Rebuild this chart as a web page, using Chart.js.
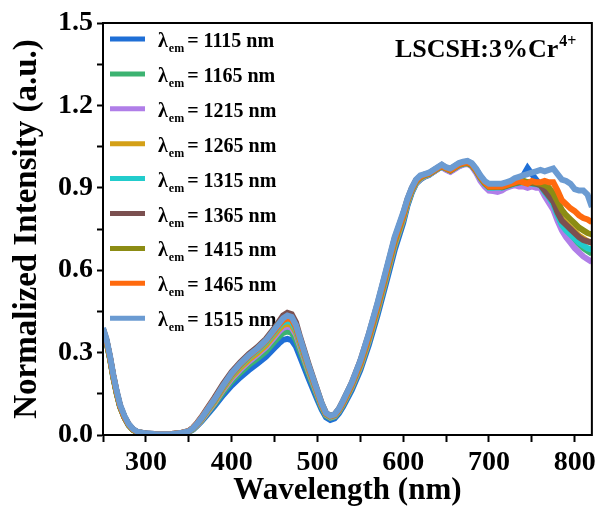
<!DOCTYPE html>
<html>
<head>
<meta charset="utf-8">
<script src="https://cdn.jsdelivr.net/npm/chart.js@4.4.0/dist/chart.umd.min.js"></script>
<style>
  body { margin: 0; background: #fff; }
  #wrap { width: 600px; height: 512px; }
</style>
</head>
<body>
<div id="wrap"><canvas id="chart" width="600" height="512"></canvas></div>
<script>
// wavelength grid (nm)
const wavelengths = [
  250, 254, 258, 262, 266, 270, 275, 280, 285, 290,
  300, 310, 320, 330, 340, 350, 355, 360, 365, 370,
  380, 390, 400, 410, 420, 430, 440, 450, 455, 460,
  465, 470, 475, 480, 490, 500, 505, 510, 515, 520,
  525, 530, 540, 550, 560, 570, 580, 590, 600, 605,
  610, 615, 620, 625, 630, 635, 640, 645, 650, 655,
  660, 665, 670, 675, 680, 685, 690, 695, 700, 705,
  710, 715, 720, 725, 730, 735, 740, 745, 750, 755,
  760, 765, 770, 775, 780, 785, 790, 795, 800, 805,
  810, 815, 820
];

const em1115 = [
  0.383, 0.343, 0.283, 0.213, 0.153, 0.103, 0.064, 0.036, 0.019, 0.01,
  0.005, 0.003, 0.002, 0.003, 0.005, 0.011, 0.02, 0.034, 0.05, 0.068,
  0.105, 0.145, 0.18, 0.21, 0.236, 0.26, 0.285, 0.317, 0.333, 0.346,
  0.35, 0.345, 0.322, 0.283, 0.203, 0.128, 0.092, 0.064, 0.055, 0.06,
  0.078, 0.104, 0.163, 0.236, 0.328, 0.435, 0.553, 0.673, 0.772, 0.835,
  0.882, 0.915, 0.93, 0.94, 0.946, 0.957, 0.968, 0.976, 0.968, 0.96,
  0.97, 0.98, 0.986, 0.99, 0.98, 0.96, 0.935, 0.915, 0.9, 0.9,
  0.902, 0.9, 0.905, 0.91, 0.918, 0.925, 0.945, 0.972, 0.95, 0.93,
  0.91, 0.885, 0.86, 0.835, 0.8, 0.77, 0.75, 0.735, 0.715, 0.7,
  0.685, 0.675, 0.665
];
const em1165 = [
  0.383, 0.343, 0.283, 0.213, 0.153, 0.103, 0.064, 0.036, 0.019, 0.01,
  0.005, 0.003, 0.002, 0.003, 0.005, 0.012, 0.021, 0.036, 0.053, 0.073,
  0.112, 0.156, 0.195, 0.227, 0.255, 0.279, 0.305, 0.34, 0.357, 0.372,
  0.377, 0.372, 0.347, 0.305, 0.22, 0.14, 0.1, 0.071, 0.062, 0.067,
  0.085, 0.111, 0.172, 0.246, 0.34, 0.448, 0.567, 0.687, 0.783, 0.842,
  0.886, 0.917, 0.932, 0.942, 0.948, 0.958, 0.968, 0.977, 0.968, 0.96,
  0.97, 0.98, 0.986, 0.989, 0.98, 0.96, 0.932, 0.912, 0.898, 0.898,
  0.9, 0.898, 0.905, 0.91, 0.915, 0.918, 0.92, 0.915, 0.915, 0.912,
  0.905, 0.88, 0.855, 0.83, 0.795, 0.765, 0.745, 0.73, 0.71, 0.695,
  0.68, 0.67, 0.66
];
const em1215 = [
  0.385, 0.345, 0.285, 0.215, 0.155, 0.104, 0.065, 0.037, 0.02, 0.01,
  0.005, 0.003, 0.002, 0.003, 0.006, 0.012, 0.022, 0.037, 0.055, 0.076,
  0.117, 0.164, 0.205, 0.238, 0.267, 0.292, 0.32, 0.357, 0.376, 0.39,
  0.395, 0.39, 0.365, 0.32, 0.23, 0.147, 0.105, 0.074, 0.064, 0.069,
  0.087, 0.114, 0.176, 0.25, 0.345, 0.453, 0.572, 0.692, 0.787, 0.845,
  0.888, 0.918, 0.933, 0.942, 0.948, 0.958, 0.968, 0.975, 0.965, 0.958,
  0.968, 0.978, 0.984, 0.987, 0.978, 0.955, 0.925, 0.905, 0.89, 0.888,
  0.885, 0.89, 0.9, 0.905, 0.91, 0.905, 0.905, 0.9, 0.905, 0.9,
  0.9, 0.87, 0.845, 0.82, 0.78, 0.745, 0.72, 0.7, 0.68, 0.665,
  0.65, 0.64, 0.63
];
const em1265 = [
  0.385, 0.345, 0.285, 0.215, 0.155, 0.104, 0.065, 0.037, 0.02, 0.011,
  0.005, 0.003, 0.002, 0.003, 0.006, 0.013, 0.023, 0.039, 0.058, 0.079,
  0.121, 0.169, 0.211, 0.245, 0.274, 0.299, 0.327, 0.365, 0.385, 0.4,
  0.405, 0.4, 0.374, 0.328, 0.235, 0.15, 0.107, 0.075, 0.065, 0.07,
  0.088, 0.115, 0.178, 0.252, 0.348, 0.456, 0.575, 0.695, 0.79, 0.847,
  0.89, 0.92, 0.935, 0.944, 0.95, 0.96, 0.97, 0.978, 0.97, 0.963,
  0.972, 0.982, 0.988, 0.99, 0.982, 0.962, 0.937, 0.917, 0.903, 0.903,
  0.905, 0.902, 0.908, 0.912, 0.918, 0.922, 0.925, 0.92, 0.918, 0.915,
  0.91, 0.89, 0.87, 0.85, 0.815, 0.785, 0.77, 0.755, 0.74, 0.725,
  0.715, 0.705, 0.7
];
const em1315 = [
  0.38, 0.34, 0.28, 0.21, 0.152, 0.103, 0.065, 0.037, 0.02, 0.01,
  0.005, 0.003, 0.002, 0.003, 0.006, 0.013, 0.024, 0.041, 0.061, 0.083,
  0.126, 0.175, 0.218, 0.253, 0.283, 0.308, 0.337, 0.375, 0.395, 0.41,
  0.415, 0.41, 0.383, 0.335, 0.24, 0.152, 0.108, 0.076, 0.066, 0.071,
  0.09, 0.118, 0.182, 0.258, 0.355, 0.464, 0.583, 0.703, 0.795, 0.85,
  0.892, 0.922, 0.937, 0.945, 0.95, 0.96, 0.97, 0.977, 0.97, 0.963,
  0.972, 0.982, 0.987, 0.99, 0.982, 0.962, 0.935, 0.915, 0.9, 0.9,
  0.902, 0.9, 0.905, 0.91, 0.915, 0.918, 0.92, 0.917, 0.915, 0.913,
  0.91, 0.885, 0.865, 0.84, 0.8, 0.765, 0.745, 0.73, 0.715, 0.7,
  0.69, 0.68, 0.675
];
const em1365 = [
  0.385, 0.345, 0.285, 0.215, 0.155, 0.105, 0.066, 0.038, 0.021, 0.011,
  0.006, 0.004, 0.003, 0.004, 0.007, 0.015, 0.027, 0.045, 0.066, 0.09,
  0.136, 0.186, 0.23, 0.265, 0.295, 0.32, 0.35, 0.39, 0.412, 0.435,
  0.445, 0.44, 0.41, 0.355, 0.255, 0.162, 0.116, 0.08, 0.07, 0.075,
  0.095, 0.125, 0.19, 0.27, 0.368, 0.477, 0.595, 0.715, 0.805, 0.858,
  0.898, 0.928, 0.942, 0.948, 0.953, 0.963, 0.973, 0.983, 0.973, 0.968,
  0.978, 0.988, 0.993, 0.995, 0.987, 0.967, 0.942, 0.922, 0.905, 0.903,
  0.905, 0.902, 0.907, 0.912, 0.917, 0.92, 0.922, 0.918, 0.917, 0.915,
  0.91, 0.89, 0.87, 0.85, 0.81, 0.78, 0.765, 0.75, 0.735, 0.72,
  0.71, 0.705, 0.7
];
const em1415 = [
  0.38, 0.34, 0.28, 0.21, 0.15, 0.102, 0.064, 0.036, 0.019, 0.01,
  0.005, 0.003, 0.002, 0.003, 0.006, 0.013, 0.024, 0.041, 0.061, 0.084,
  0.128, 0.178, 0.222, 0.257, 0.288, 0.314, 0.343, 0.383, 0.405, 0.42,
  0.43, 0.425, 0.395, 0.345, 0.247, 0.157, 0.112, 0.078, 0.068, 0.073,
  0.092, 0.12, 0.184, 0.26, 0.357, 0.466, 0.585, 0.705, 0.797, 0.852,
  0.893, 0.923, 0.938, 0.946, 0.95, 0.96, 0.97, 0.978, 0.97, 0.963,
  0.973, 0.983, 0.988, 0.99, 0.982, 0.962, 0.937, 0.917, 0.903, 0.903,
  0.905, 0.903, 0.908, 0.912, 0.918, 0.922, 0.925, 0.92, 0.92, 0.918,
  0.915, 0.91, 0.9, 0.88, 0.85, 0.82, 0.8, 0.785, 0.77, 0.755,
  0.745, 0.735, 0.73
];
const em1465 = [
  0.385, 0.345, 0.285, 0.215, 0.155, 0.105, 0.066, 0.038, 0.02, 0.011,
  0.005, 0.003, 0.003, 0.004, 0.007, 0.014, 0.026, 0.043, 0.063, 0.086,
  0.13, 0.178, 0.222, 0.257, 0.287, 0.312, 0.342, 0.38, 0.4, 0.418,
  0.425, 0.42, 0.392, 0.342, 0.245, 0.155, 0.11, 0.078, 0.068, 0.073,
  0.092, 0.12, 0.185, 0.262, 0.36, 0.47, 0.59, 0.71, 0.8, 0.855,
  0.895, 0.925, 0.94, 0.948, 0.952, 0.962, 0.972, 0.98, 0.972, 0.965,
  0.975, 0.985, 0.99, 0.993, 0.985, 0.965, 0.94, 0.92, 0.905, 0.905,
  0.905, 0.905, 0.91, 0.915, 0.92, 0.925, 0.92, 0.915, 0.925, 0.92,
  0.92, 0.925, 0.92, 0.92, 0.89, 0.855, 0.84, 0.825, 0.815, 0.8,
  0.79, 0.785, 0.775
];
const em1515 = [
  0.39, 0.35, 0.29, 0.22, 0.16, 0.11, 0.07, 0.04, 0.022, 0.012,
  0.006, 0.004, 0.003, 0.004, 0.007, 0.014, 0.025, 0.042, 0.062, 0.085,
  0.13, 0.18, 0.225, 0.26, 0.29, 0.315, 0.345, 0.385, 0.405, 0.425,
  0.435, 0.43, 0.4, 0.35, 0.25, 0.16, 0.115, 0.08, 0.07, 0.075,
  0.095, 0.125, 0.19, 0.27, 0.37, 0.48, 0.6, 0.72, 0.81, 0.86,
  0.9, 0.93, 0.945, 0.95, 0.955, 0.965, 0.975, 0.985, 0.975, 0.97,
  0.98, 0.99, 0.995, 0.998, 0.99, 0.97, 0.945, 0.925, 0.915, 0.915,
  0.915, 0.915, 0.92, 0.925, 0.935, 0.94, 0.945, 0.95, 0.955, 0.96,
  0.965, 0.96, 0.965, 0.97, 0.95, 0.93, 0.925, 0.915, 0.895, 0.89,
  0.89, 0.875, 0.83
];

const emLabels = ["1115", "1165", "1215", "1265", "1315", "1365", "1415", "1465", "1515"];
const emSeries = [em1115, em1165, em1215, em1265, em1315, em1365, em1415, em1465, em1515];
const emColors = ["#1f6fd6", "#3cb371", "#b07ee8", "#d4a017", "#22cccc", "#7b5050", "#8c8c14", "#ff6a0e", "#6b9bd2"];

const xTicks = [300, 400, 500, 600, 700, 800];
const yTicks = [0.0, 0.3, 0.6, 0.9, 1.2, 1.5];

const FONT = "'Liberation Serif', 'Times New Roman', serif";

const datasets = emSeries.map((vals, i) => ({
  label: emLabels[i],
  data: wavelengths.map((w, j) => ({ x: w, y: vals[j] })),
  borderColor: emColors[i],
  backgroundColor: emColors[i],
  borderWidth: 6,
  pointRadius: 0,
  tension: 0,
  fill: false,
  order: emSeries.length - 1 - i  // last one ends up on top
}));

// legend with subscripts, drawn under the curves
const emLegend = {
  id: "emLegend",
  beforeDatasetsDraw(chart) {
    const ctx = chart.ctx;
    ctx.save();
    emLabels.forEach((lab, i) => {
      const cy = 39 + i * 34.9;
      ctx.strokeStyle = emColors[i];
      ctx.lineWidth = 5;
      ctx.beginPath();
      ctx.moveTo(110, cy);
      ctx.lineTo(145, cy);
      ctx.stroke();

      ctx.fillStyle = "#000";
      ctx.textBaseline = "alphabetic";
      ctx.font = "bold 20px " + FONT;
      let x = 158;
      ctx.fillText("λ", x, cy + 8);
      x += ctx.measureText("λ").width + 1;
      ctx.font = "bold 12px " + FONT;
      ctx.fillText("em", x, cy + 13);
      x += ctx.measureText("em").width + 3;
      ctx.font = "bold 20px " + FONT;
      ctx.fillText("= " + lab + " nm", x, cy + 8);
    });
    ctx.restore();
  }
};

// frame + sample label
const frame = {
  id: "frame",
  afterDatasetsDraw(chart) {
    const ctx = chart.ctx;
    const a = chart.chartArea;
    ctx.save();
    ctx.strokeStyle = "#000";
    ctx.lineWidth = 2;
    ctx.strokeRect(a.left, a.top, a.right - a.left, a.bottom - a.top);

    ctx.fillStyle = "#000";
    ctx.font = "bold 26px " + FONT;
    ctx.textBaseline = "alphabetic";
    const txt = "LSCSH:3%Cr";
    ctx.fillText(txt, 395, 57);
    const w = ctx.measureText(txt).width;
    ctx.font = "bold 16px " + FONT;
    ctx.fillText("4+", 395 + w + 1, 46);
    ctx.restore();
  }
};

new Chart(document.getElementById("chart"), {
  type: "line",
  data: { datasets: datasets },
  plugins: [emLegend, frame],
  options: {
    responsive: false,
    animation: false,
    devicePixelRatio: 1,
    layout: { padding: { top: 23, right: 8, left: 0, bottom: 0 } },
    plugins: {
      legend: { display: false },
      tooltip: { enabled: false }
    },
    scales: {
      x: {
        type: "linear",
        min: 250,
        max: 820,
        afterFit: (s) => { s.height = 77; },
        ticks: {
          stepSize: 50,
          includeBounds: false,
          maxRotation: 0,
          autoSkip: false,
          padding: 4,
          color: "#000",
          font: { family: FONT, size: 28, weight: "bold" },
          callback: (v) => (xTicks.includes(v) ? String(v) : "")
        },
        grid: { drawOnChartArea: false, tickLength: 7, tickWidth: 2, tickColor: "#000" },
        border: { color: "#000", width: 2 },
        title: {
          display: true,
          text: "Wavelength (nm)",
          color: "#000",
          font: { family: FONT, size: 31, weight: "bold" },
          padding: { top: 0, bottom: 2 }
        }
      },
      y: {
        min: 0,
        max: 1.5,
        afterFit: (s) => { s.width = 103; },
        ticks: {
          stepSize: 0.15,
          autoSkip: false,
          padding: 4,
          color: "#000",
          font: { family: FONT, size: 28, weight: "bold" },
          callback: (v) => {
            const hit = yTicks.find((t) => Math.abs(t - v) < 1e-6);
            return hit !== undefined ? hit.toFixed(1) : "";
          }
        },
        grid: { drawOnChartArea: false, tickLength: 6, tickWidth: 2, tickColor: "#000" },
        border: { color: "#000", width: 2 },
        title: {
          display: true,
          text: "Normalized Intensity (a.u.)",
          color: "#000",
          font: { family: FONT, size: 33, weight: "bold" },
          padding: { top: 8, bottom: 0 }
        }
      }
    }
  }
});
</script>
</body>
</html>
